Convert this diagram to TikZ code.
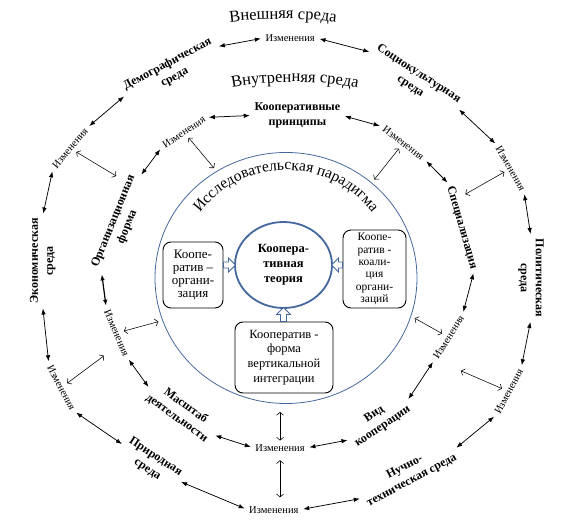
\documentclass[tikz,border=0pt]{standalone}
\usepackage{fontspec}
\setmainfont{Liberation Serif}
\usetikzlibrary{arrows.meta}
\usetikzlibrary{shapes.geometric}
\usetikzlibrary{decorations.text}
\definecolor{paraBlue}{RGB}{68,104,158}

\newcommand\hollowarrow[3]{% start, direction, length
  \draw[blockarr, shift={(#1)}, rotate=#2] (0,-3) -- (#3-7,-3) -- (#3-7,-7)
    -- (#3,0) -- (#3-7,7) -- (#3-7,3) -- (0,3) -- cycle;}

\begin{document}
\begin{tikzpicture}[
    x=1pt, y=1pt, line width=0.6pt,
    change/.style={font=\fontsize{10.5}{12}\selectfont, inner sep=1.5pt}, % "Изменения" labels
    env/.style={font=\bfseries\fontsize{12}{15}\selectfont, align=center, inner sep=1.5pt},
    box/.style={draw, rounded corners=8pt, line width=0.9pt, align=center, inner sep=1pt},
    ring/.style={{Latex[length=6pt,width=4.5pt]}-{Latex[length=6pt,width=4.5pt]},
      line width=0.75pt, shorten <=3pt, shorten >=3pt},
    radial/.style={{Straight Barb[length=3pt,width=7pt]}-{Straight Barb[length=3pt,width=7pt]},
      line width=0.55pt, shorten <=2pt, shorten >=2pt},
    blockarr/.style={draw=paraBlue, fill=white, line width=0.8pt, line join=miter},
    arctext/.style={decorate, decoration={text along path, text align=center, text={#1}}},
  ]
  \useasboundingbox (-286,-243) rectangle (287,278);

  % --- research paradigm and the cooperative theory
  \node[draw=paraBlue, line width=0.8pt, ellipse, minimum width=262pt, minimum height=251pt] (para) at (0,0) {};
  \node[draw=paraBlue, line width=1.8pt, ellipse, minimum width=97pt, minimum height=86pt, inner sep=0pt,
    align=center, font=\bfseries\fontsize{12.5}{15}\selectfont] (theory) at (-2.5,13) {Коопера-\\тивная\\теория};
  \node[box, minimum width=60pt, minimum height=66pt, font=\fontsize{13}{13}\selectfont]
    (org) at (-93,3) {Коопе-\\ратив –\\органи-\\зация};
  \node[box, minimum width=63pt, minimum height=78pt, font=\fontsize{11.5}{12.3}\selectfont]
    (coal) at (88.5,9) {Коопе-\\ратив -\\коали-\\ция\\органи-\\заций};
  \node[box, minimum width=98pt, minimum height=71pt, font=\fontsize{12.5}{14.7}\selectfont]
    (vert) at (-2,-79.5) {Кооператив -\\форма\\вертикальной\\интеграции};

  % --- hollow arrows into the theory
  \hollowarrow{org.east |- theory.west}{0}{12}
  \hollowarrow{coal.west |- theory.east}{180}{11}
  \hollowarrow{vert.north -| theory.south}{90}{14}

  % --- titles along arcs
  \path[arctext={|\fontsize{16.5}{18}\selectfont|Внешняя среда}]
    ([shift={(100:450)}]-3,-191) arc[start angle=100, end angle=80, radius=450];
  \path[arctext={|\fontsize{16.5}{18}\selectfont|Внутренняя среда}]
    ([shift={(104:341)}]9,-145) arc[start angle=104, end angle=76, radius=341];
  \path[arctext={|\fontsize{15.5}{18}\selectfont|Исследовательская парадигма}]
    (150:108) arc[start angle=150, end angle=30, radius=108];

  % --- outer ring: external environment
  \foreach \n/\a/\r/\t in {o1/89/240/0, o3/26/250/-60, o5/-27/250/62, o7/-93/232/0, o9/-154/250/-62, o11/149/252/50}
    \node[change, rotate=\t] (\n) at (\a:\r) {Изменения};
  \foreach \n/\a/\r/\t/\txt in {o2/57/236/-33/Социокультурная\\среда, o4/0/245/-90/Политическая\\среда,
      o6/-58/231/28/Нучно-\\техническая среда, o8/-126/229/-33/Природная\\среда,
      o10/176/244/90/Экономическая\\среда, o12/119/237/28/Демографическая\\среда}
    \node[env, rotate=\t] (\n) at (\a:\r) {\txt};

  % --- inner ring: internal environment
  \foreach \n/\a/\r/\t in {i2/49/179/-38, i4/-20/173/58, i6/-92/170/0, i8/-162/178/-67, i10/125/178/34}
    \node[change, rotate=\t] (\n) at (\a:\r) {Изменения};
  \foreach \n/\a/\r/\t/\txt in {i1/86/163/0/Кооперативные\\принципы, i3/16/183/-74/Специализация,
      i5/-57/170/34/Вид\\кооперации, i7/-128/170/-36/Масштаб\\деятельности,
      i9/162/174/68/Организационная\\форма}
    \node[env, rotate=\t] (\n) at (\a:\r) {\txt};

  % --- arrows along the rings
  \foreach \s/\e in {o1.east/o2.west, o2.east/o3.west, o3.east/o4.west, o4.east/o5.east,
      o5.west/o6.east, o6.west/o7.east, o7.west/o8.east, o8.west/o9.east,
      o9.west/o10.west, o10.east/o11.west, o11.east/o12.west, o12.east/o1.west,
      i1.east/i2.west, i2.east/i3.west, i3.east/i4.east, i4.west/i5.east,
      i5.west/i6.east, i6.west/i7.east, i7.west/i8.east,
      i9.east/i10.west, i10.east/i1.west}
    \draw[ring] (\s) -- (\e);
  \draw[ring, line width=1.2pt] (i8.west) -- (i9.west);

  % --- arrows across the rings
  \foreach \a/\n in {149/c11, 25/c3, -28/c5, -157/c9}
    \coordinate (\n) at (\a:196);
  \foreach \s/\e in {o11/c11, o3/c3, o5/c5, o9/c9}
    \draw[radial] (\s) -- (\e);
  \foreach \s/\a in {i10/123, i2/48, i4/343, i8/199}
    \draw[radial, shorten >=4pt] (\s) -- (para.\a);
  \draw[radial, shorten >=8pt] (i6.north) -- (i6.north |- para.south);
  \draw[radial, shorten <=7pt, shorten >=7pt] (i6.south) -- (i6.south |- o7.north);
\end{tikzpicture}
\end{document}
